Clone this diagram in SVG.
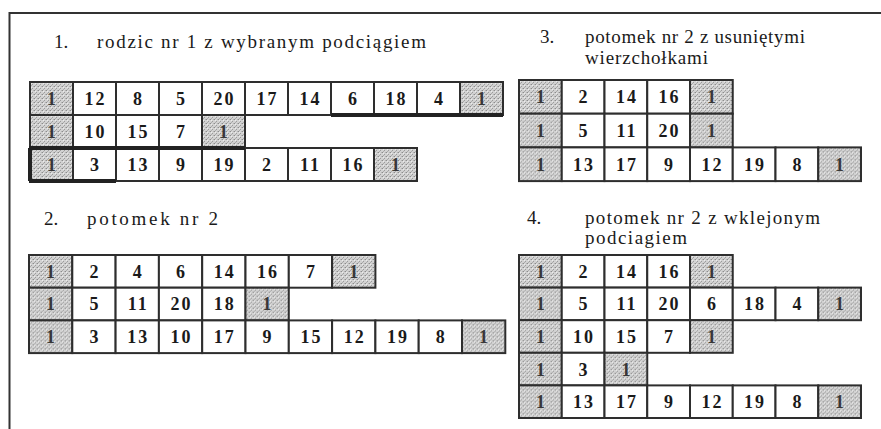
<svg xmlns="http://www.w3.org/2000/svg" width="881" height="429" viewBox="0 0 881 429">
  <defs>
    <!-- stippled grey used for the terminal "1" cells -->
    <pattern id="stip" width="4" height="4" patternUnits="userSpaceOnUse">
      <rect width="4" height="4" fill="#d2d2d2"/>
      <rect x="0" y="0" width="1" height="1" fill="#8c8c8c"/>
      <rect x="2" y="2" width="1" height="1" fill="#9c9c9c"/>
      <rect x="3" y="0" width="1" height="1" fill="#b4b4b4"/>
      <rect x="1" y="3" width="1" height="1" fill="#acacac"/>
      <rect x="1" y="1" width="1" height="1" fill="#ececec"/>
    </pattern>
    <style>
      .c { fill: #ffffff; stroke: #2e2e2e; stroke-width: 2; }
      .s { fill: url(#stip); stroke: #2e2e2e; stroke-width: 2; }
      .n { font-family: "Liberation Serif", "Times New Roman", serif; font-weight: bold; font-size: 18px; fill: #1a1a1a; text-anchor: middle; letter-spacing: 2px; }
      .o { fill: #383838; }
      .t { font-family: "Liberation Serif", "Times New Roman", serif; font-size: 19px; fill: #1a1a1a; }
      .frame { fill: none; stroke: #333333; stroke-width: 2; }
      .sel { stroke: #222222; stroke-width: 4; fill: none; }
    </style>
  </defs>

  <rect width="881" height="429" fill="#ffffff"/>

  <!-- open frame: top and left edges -->
  <path class="frame" d="M9.5 429 V13 H881"/>

  <!-- panel 1: parent 1 with the chosen sub-route -->
  <g id="panel1">
    <text class="t" x="54" y="48">1.</text>
    <text class="t" x="97" y="48" textLength="329" lengthAdjust="spacing">rodzic nr 1 z wybranym podciągiem</text>
    <g id="p1-row1" transform="translate(30,82)">
      <rect class="s" x="0" width="43" height="33"/><text class="n o" x="22.5" y="23">1</text>
      <rect class="c" x="43" width="43" height="33"/><text class="n" x="65.5" y="23">12</text>
      <rect class="c" x="86" width="43" height="33"/><text class="n" x="108.5" y="23">8</text>
      <rect class="c" x="129" width="43" height="33"/><text class="n" x="151.5" y="23">5</text>
      <rect class="c" x="172" width="43" height="33"/><text class="n" x="194.5" y="23">20</text>
      <rect class="c" x="215" width="43" height="33"/><text class="n" x="237.5" y="23">17</text>
      <rect class="c" x="258" width="43" height="33"/><text class="n" x="280.5" y="23">14</text>
      <rect class="c" x="301" width="43" height="33"/><text class="n" x="323.5" y="23">6</text>
      <rect class="c" x="344" width="43" height="33"/><text class="n" x="366.5" y="23">18</text>
      <rect class="c" x="387" width="43" height="33"/><text class="n" x="409.5" y="23">4</text>
      <rect class="s" x="430" width="43" height="33"/><text class="n o" x="452.5" y="23">1</text>
    </g>
    <g id="p1-row2" transform="translate(30,115)">
      <rect class="s" x="0" width="43" height="33"/><text class="n o" x="22.5" y="23">1</text>
      <rect class="c" x="43" width="43" height="33"/><text class="n" x="65.5" y="23">10</text>
      <rect class="c" x="86" width="43" height="33"/><text class="n" x="108.5" y="23">15</text>
      <rect class="c" x="129" width="43" height="33"/><text class="n" x="151.5" y="23">7</text>
      <rect class="s" x="172" width="43" height="33"/><text class="n o" x="194.5" y="23">1</text>
    </g>
    <g id="p1-row3" transform="translate(30,148)">
      <rect class="s" x="0" width="43" height="33"/><text class="n o" x="22.5" y="23">1</text>
      <rect class="c" x="43" width="43" height="33"/><text class="n" x="65.5" y="23">3</text>
      <rect class="c" x="86" width="43" height="33"/><text class="n" x="108.5" y="23">13</text>
      <rect class="c" x="129" width="43" height="33"/><text class="n" x="151.5" y="23">9</text>
      <rect class="c" x="172" width="43" height="33"/><text class="n" x="194.5" y="23">19</text>
      <rect class="c" x="215" width="43" height="33"/><text class="n" x="237.5" y="23">2</text>
      <rect class="c" x="258" width="43" height="33"/><text class="n" x="280.5" y="23">11</text>
      <rect class="c" x="301" width="43" height="33"/><text class="n" x="323.5" y="23">16</text>
      <rect class="s" x="344" width="43" height="33"/><text class="n o" x="366.5" y="23">1</text>
    </g>
    <!-- heavier rules marking the chosen sub-route -->
    <g id="p1-marks">
      <path class="sel" d="M331 115 H503"/>
      <path class="sel" d="M29 148 H245"/>
      <path class="sel" d="M29 181 H116 M30 148 V181"/>
    </g>
  </g>

  <!-- panel 2: offspring 2 -->
  <g id="panel2">
    <text class="t" x="44" y="225">2.</text>
    <text class="t" x="87" y="225" textLength="131" lengthAdjust="spacing">potomek nr 2</text>
    <g id="p2-row1" transform="translate(29,255)">
      <rect class="s" x="0" width="43.3" height="32.7"/><text class="n o" x="22.6" y="22.8">1</text>
      <rect class="c" x="43.3" width="43.3" height="32.7"/><text class="n" x="65.9" y="22.8">2</text>
      <rect class="c" x="86.6" width="43.3" height="32.7"/><text class="n" x="109.2" y="22.8">4</text>
      <rect class="c" x="129.9" width="43.3" height="32.7"/><text class="n" x="152.5" y="22.8">6</text>
      <rect class="c" x="173.2" width="43.3" height="32.7"/><text class="n" x="195.8" y="22.8">14</text>
      <rect class="c" x="216.5" width="43.3" height="32.7"/><text class="n" x="239.1" y="22.8">16</text>
      <rect class="c" x="259.8" width="43.3" height="32.7"/><text class="n" x="282.4" y="22.8">7</text>
      <rect class="s" x="303.1" width="43.3" height="32.7"/><text class="n o" x="325.7" y="22.8">1</text>
    </g>
    <g id="p2-row2" transform="translate(29,287.7)">
      <rect class="s" x="0" width="43.3" height="32.7"/><text class="n o" x="22.6" y="22.8">1</text>
      <rect class="c" x="43.3" width="43.3" height="32.7"/><text class="n" x="65.9" y="22.8">5</text>
      <rect class="c" x="86.6" width="43.3" height="32.7"/><text class="n" x="109.2" y="22.8">11</text>
      <rect class="c" x="129.9" width="43.3" height="32.7"/><text class="n" x="152.5" y="22.8">20</text>
      <rect class="c" x="173.2" width="43.3" height="32.7"/><text class="n" x="195.8" y="22.8">18</text>
      <rect class="s" x="216.5" width="43.3" height="32.7"/><text class="n o" x="239.1" y="22.8">1</text>
    </g>
    <g id="p2-row3" transform="translate(29,320.4)">
      <rect class="s" x="0" width="43.3" height="32.7"/><text class="n o" x="22.6" y="22.8">1</text>
      <rect class="c" x="43.3" width="43.3" height="32.7"/><text class="n" x="65.9" y="22.8">3</text>
      <rect class="c" x="86.6" width="43.3" height="32.7"/><text class="n" x="109.2" y="22.8">13</text>
      <rect class="c" x="129.9" width="43.3" height="32.7"/><text class="n" x="152.5" y="22.8">10</text>
      <rect class="c" x="173.2" width="43.3" height="32.7"/><text class="n" x="195.8" y="22.8">17</text>
      <rect class="c" x="216.5" width="43.3" height="32.7"/><text class="n" x="239.1" y="22.8">9</text>
      <rect class="c" x="259.8" width="43.3" height="32.7"/><text class="n" x="282.4" y="22.8">15</text>
      <rect class="c" x="303.1" width="43.3" height="32.7"/><text class="n" x="325.7" y="22.8">12</text>
      <rect class="c" x="346.4" width="43.3" height="32.7"/><text class="n" x="369" y="22.8">19</text>
      <rect class="c" x="389.7" width="43.3" height="32.7"/><text class="n" x="412.3" y="22.8">8</text>
      <rect class="s" x="433" width="43.3" height="32.7"/><text class="n o" x="455.6" y="22.8">1</text>
    </g>
  </g>

  <!-- panel 3: offspring 2 with vertices removed -->
  <g id="panel3">
    <text class="t" x="540" y="43">3.</text>
    <text class="t" x="585" y="43" textLength="220" lengthAdjust="spacing">potomek nr 2 z usuniętymi</text>
    <text class="t" x="585" y="64" textLength="123" lengthAdjust="spacing">wierzchołkami</text>
    <g id="p3-row1" transform="translate(519,80)">
      <rect class="s" x="0" width="42.75" height="33.7"/><text class="n o" x="22.4" y="23.4">1</text>
      <rect class="c" x="42.75" width="42.75" height="33.7"/><text class="n" x="65.1" y="23.4">2</text>
      <rect class="c" x="85.5" width="42.75" height="33.7"/><text class="n" x="107.9" y="23.4">14</text>
      <rect class="c" x="128.25" width="42.75" height="33.7"/><text class="n" x="150.6" y="23.4">16</text>
      <rect class="s" x="171" width="42.75" height="33.7"/><text class="n o" x="193.4" y="23.4">1</text>
    </g>
    <g id="p3-row2" transform="translate(519,113.7)">
      <rect class="s" x="0" width="42.75" height="33.7"/><text class="n o" x="22.4" y="23.4">1</text>
      <rect class="c" x="42.75" width="42.75" height="33.7"/><text class="n" x="65.1" y="23.4">5</text>
      <rect class="c" x="85.5" width="42.75" height="33.7"/><text class="n" x="107.9" y="23.4">11</text>
      <rect class="c" x="128.25" width="42.75" height="33.7"/><text class="n" x="150.6" y="23.4">20</text>
      <rect class="s" x="171" width="42.75" height="33.7"/><text class="n o" x="193.4" y="23.4">1</text>
    </g>
    <g id="p3-row3" transform="translate(519,147.4)">
      <rect class="s" x="0" width="42.75" height="33.7"/><text class="n o" x="22.4" y="23.4">1</text>
      <rect class="c" x="42.75" width="42.75" height="33.7"/><text class="n" x="65.1" y="23.4">13</text>
      <rect class="c" x="85.5" width="42.75" height="33.7"/><text class="n" x="107.9" y="23.4">17</text>
      <rect class="c" x="128.25" width="42.75" height="33.7"/><text class="n" x="150.6" y="23.4">9</text>
      <rect class="c" x="171" width="42.75" height="33.7"/><text class="n" x="193.4" y="23.4">12</text>
      <rect class="c" x="213.75" width="42.75" height="33.7"/><text class="n" x="236.1" y="23.4">19</text>
      <rect class="c" x="256.5" width="42.75" height="33.7"/><text class="n" x="278.9" y="23.4">8</text>
      <rect class="s" x="299.25" width="42.75" height="33.7"/><text class="n o" x="321.6" y="23.4">1</text>
    </g>
  </g>

  <!-- panel 4: offspring 2 with the sub-route pasted in -->
  <g id="panel4">
    <text class="t" x="527" y="224">4.</text>
    <text class="t" x="585" y="224" textLength="235" lengthAdjust="spacing">potomek nr 2 z wklejonym</text>
    <text class="t" x="585" y="244" textLength="102" lengthAdjust="spacing">podciagiem</text>
    <g id="p4-row1" transform="translate(519,255)">
      <rect class="s" x="0" width="42.75" height="32.6"/><text class="n o" x="22.4" y="22.8">1</text>
      <rect class="c" x="42.75" width="42.75" height="32.6"/><text class="n" x="65.1" y="22.8">2</text>
      <rect class="c" x="85.5" width="42.75" height="32.6"/><text class="n" x="107.9" y="22.8">14</text>
      <rect class="c" x="128.25" width="42.75" height="32.6"/><text class="n" x="150.6" y="22.8">16</text>
      <rect class="s" x="171" width="42.75" height="32.6"/><text class="n o" x="193.4" y="22.8">1</text>
    </g>
    <g id="p4-row2" transform="translate(519,287.6)">
      <rect class="s" x="0" width="42.75" height="32.6"/><text class="n o" x="22.4" y="22.8">1</text>
      <rect class="c" x="42.75" width="42.75" height="32.6"/><text class="n" x="65.1" y="22.8">5</text>
      <rect class="c" x="85.5" width="42.75" height="32.6"/><text class="n" x="107.9" y="22.8">11</text>
      <rect class="c" x="128.25" width="42.75" height="32.6"/><text class="n" x="150.6" y="22.8">20</text>
      <rect class="c" x="171" width="42.75" height="32.6"/><text class="n" x="193.4" y="22.8">6</text>
      <rect class="c" x="213.75" width="42.75" height="32.6"/><text class="n" x="236.1" y="22.8">18</text>
      <rect class="c" x="256.5" width="42.75" height="32.6"/><text class="n" x="278.9" y="22.8">4</text>
      <rect class="s" x="299.25" width="42.75" height="32.6"/><text class="n o" x="321.6" y="22.8">1</text>
    </g>
    <g id="p4-row3" transform="translate(519,320.2)">
      <rect class="s" x="0" width="42.75" height="32.6"/><text class="n o" x="22.4" y="22.8">1</text>
      <rect class="c" x="42.75" width="42.75" height="32.6"/><text class="n" x="65.1" y="22.8">10</text>
      <rect class="c" x="85.5" width="42.75" height="32.6"/><text class="n" x="107.9" y="22.8">15</text>
      <rect class="c" x="128.25" width="42.75" height="32.6"/><text class="n" x="150.6" y="22.8">7</text>
      <rect class="s" x="171" width="42.75" height="32.6"/><text class="n o" x="193.4" y="22.8">1</text>
    </g>
    <g id="p4-row4" transform="translate(519,352.8)">
      <rect class="s" x="0" width="42.75" height="32.6"/><text class="n o" x="22.4" y="22.8">1</text>
      <rect class="c" x="42.75" width="42.75" height="32.6"/><text class="n" x="65.1" y="22.8">3</text>
      <rect class="s" x="85.5" width="42.75" height="32.6"/><text class="n o" x="107.9" y="22.8">1</text>
    </g>
    <g id="p4-row5" transform="translate(519,385.4)">
      <rect class="s" x="0" width="42.75" height="32.6"/><text class="n o" x="22.4" y="22.8">1</text>
      <rect class="c" x="42.75" width="42.75" height="32.6"/><text class="n" x="65.1" y="22.8">13</text>
      <rect class="c" x="85.5" width="42.75" height="32.6"/><text class="n" x="107.9" y="22.8">17</text>
      <rect class="c" x="128.25" width="42.75" height="32.6"/><text class="n" x="150.6" y="22.8">9</text>
      <rect class="c" x="171" width="42.75" height="32.6"/><text class="n" x="193.4" y="22.8">12</text>
      <rect class="c" x="213.75" width="42.75" height="32.6"/><text class="n" x="236.1" y="22.8">19</text>
      <rect class="c" x="256.5" width="42.75" height="32.6"/><text class="n" x="278.9" y="22.8">8</text>
      <rect class="s" x="299.25" width="42.75" height="32.6"/><text class="n o" x="321.6" y="22.8">1</text>
    </g>
  </g>
</svg>
